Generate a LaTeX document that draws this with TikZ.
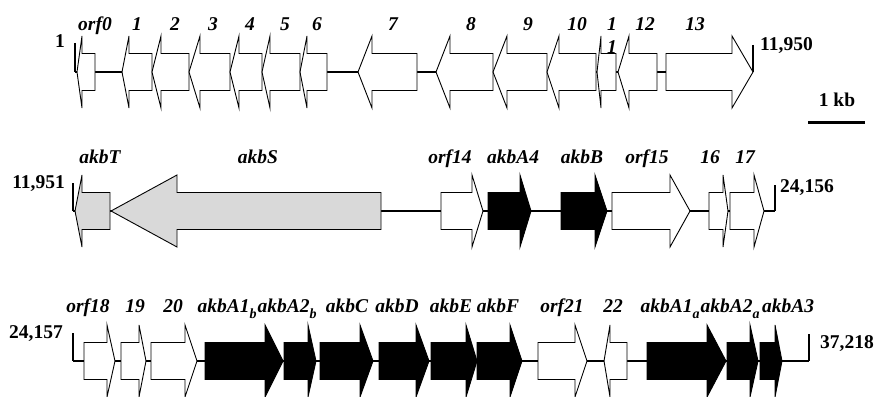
\documentclass[tikz,border=0pt]{standalone}
\usepackage{fontspec}
\setmainfont{Liberation Serif}
\begin{document}
\begin{tikzpicture}[x=1pt,y=-1pt,
  genelabel/.style={anchor=base,inner sep=0pt,font=\fontsize{19.5}{20}\selectfont\bfseries\itshape},
  coordlabel/.style={inner sep=0pt,font=\fontsize{19.5}{20}\selectfont\bfseries},
  openorf/.style={draw=black,line width=0.9pt,fill=white,line join=miter},
  akbgene/.style={draw=black,line width=0.9pt,fill=black,line join=miter},
  grayorf/.style={draw=black,line width=0.9pt,fill=gray!30,line join=miter},
  backbone/.style={line width=2.4pt},
  endtick/.style={line width=1.8pt}]
\useasboundingbox (0,0) rectangle (877,396);

% forward gene: style, left end, head base, tip, axis
\newcommand\fwdgene[5]{%
  \draw[#1] (#2,#5-18.5) -- (#3,#5-18.5) -- (#3,#5-36) -- (#4,#5)
    -- (#3,#5+36) -- (#3,#5+18.5) -- (#2,#5+18.5) -- cycle;}
% reverse gene: style, tip, head base, right end, axis
\newcommand\revgene[5]{%
  \draw[#1] (#4,#5-18.5) -- (#3,#5-18.5) -- (#3,#5-36) -- (#2,#5)
    -- (#3,#5+36) -- (#3,#5+18.5) -- (#4,#5+18.5) -- cycle;}

% ---------------- segment 1 : 1 .. 11,950 ----------------
\coordinate (s1a) at (75,72);
\coordinate (s1b) at (753,72);
\draw[endtick] (75,43) -- (s1a);
\draw[endtick] (753,45) -- (s1b);
\draw[backbone] (s1a) -- (s1b);
\revgene{openorf}{77}{82}{95}{72}
\revgene{openorf}{122}{129}{152}{72}
\revgene{openorf}{152}{161}{189}{72}
\revgene{openorf}{189}{200}{230}{72}
\revgene{openorf}{230}{239}{262}{72}
\revgene{openorf}{262}{270}{300}{72}
\revgene{openorf}{300}{307}{327}{72}
\revgene{openorf}{358}{372}{417}{72}
\revgene{openorf}{436}{450}{493}{72}
\revgene{openorf}{493}{507}{547}{72}
\revgene{openorf}{547}{559}{596}{72}
\revgene{openorf}{597}{601}{616}{72}
\revgene{openorf}{618}{629}{657}{72}
\fwdgene{openorf}{666}{732}{753}{72}

\node[coordlabel,anchor=base] (c1) at (60,48) {1};
\node[coordlabel,anchor=base west] (c11950) at (760,50) {11,950};
\node[genelabel] (g0) at (95,31) {orf0};
\node[genelabel] (g1) at (137,31) {1};
\node[genelabel] (g2) at (175,31) {2};
\node[genelabel] (g3) at (213,31) {3};
\node[genelabel] (g4) at (250,31) {4};
\node[genelabel] (g5) at (285,31) {5};
\node[genelabel] (g6) at (317,31) {6};
\node[genelabel] (g7) at (393,31) {7};
\node[genelabel] (g8) at (471,31) {8};
\node[genelabel] (g9) at (528,31) {9};
\node[genelabel] (g10) at (577,31) {10};
\node[genelabel] (g11a) at (612,31) {1};
\node[genelabel] (g11b) at (612,53) {1};
\node[genelabel] (g12) at (645,31) {12};
\node[genelabel] (g13) at (695,31) {13};

% scale bar
\node[coordlabel,anchor=base] (kb) at (837,106) {1 kb};
\coordinate (bar1) at (808,122);
\coordinate (bar2) at (865,122);
\draw[line width=3pt] (bar1) -- (bar2);

% ---------------- segment 2 : 11,951 .. 24,156 ----------------
\coordinate (s2a) at (73,211);
\coordinate (s2b) at (775,211);
\draw[endtick] (73,183) -- (s2a);
\draw[endtick] (775,185) -- (s2b);
\draw[line width=1.8pt] (s2a) -- (s2b);
\revgene{grayorf}{75}{82}{110}{211}
\revgene{grayorf}{111}{177}{381}{211}
\fwdgene{openorf}{441}{472}{483}{211}
\fwdgene{akbgene}{488}{520}{531}{211}
\fwdgene{akbgene}{561}{595}{607}{211}
\fwdgene{openorf}{612}{670}{690}{211}
\fwdgene{openorf}{709}{723}{728}{211}
\fwdgene{openorf}{730}{754}{764}{211}

\node[coordlabel,anchor=base east] (c11951) at (65,188) {11,951};
\node[coordlabel,anchor=base west] (c24156) at (780,192) {24,156};
\node[genelabel] (gT) at (100,163) {akbT};
\node[genelabel] (gS) at (258,163) {akbS};
\node[genelabel] (g14) at (450,163) {orf14};
\node[genelabel] (gA4) at (513,163) {akbA4};
\node[genelabel] (gB) at (582,163) {akbB};
\node[genelabel] (g15) at (647,163) {orf15};
\node[genelabel] (g16) at (710,163) {16};
\node[genelabel] (g17) at (745,163) {17};

% ---------------- segment 3 : 24,157 .. 37,218 ----------------
\coordinate (s3a) at (73,361);
\coordinate (s3b) at (809,361);
\draw[endtick] (73,333) -- (s3a);
\draw[endtick] (809,334) -- (s3b);
\draw[backbone] (s3a) -- (s3b);
\fwdgene{openorf}{84}{107}{115}{361}
\fwdgene{openorf}{121}{139}{146}{361}
\fwdgene{openorf}{151}{185}{197}{361}
\fwdgene{akbgene}{205}{265}{283}{361}
\fwdgene{akbgene}{284}{308}{316}{361}
\fwdgene{akbgene}{320}{360}{373}{361}
\fwdgene{akbgene}{379}{416}{429}{361}
\fwdgene{akbgene}{431}{466}{477}{361}
\fwdgene{akbgene}{477}{510}{522}{361}
\fwdgene{openorf}{538}{575}{587}{361}
\revgene{openorf}{604}{610}{627}{361}
\fwdgene{akbgene}{647}{707}{726}{361}
\fwdgene{akbgene}{727}{750}{758}{361}
\fwdgene{akbgene}{760}{775}{782}{361}

\newcommand\lowsub[1]{\raisebox{-0.32em}{\fontsize{14}{14}\selectfont #1}}
\node[coordlabel,anchor=base east] (c24157) at (63,338) {24,157};
\node[coordlabel,anchor=base west] (c37218) at (820,348) {37,218};
\node[genelabel] (g18) at (88,312) {orf18};
\node[genelabel] (g19) at (135,312) {19};
\node[genelabel] (g20) at (173,312) {20};
\node[genelabel] (gA1b) at (227,312) {akbA1\lowsub{b}};
\node[genelabel] (gA2b) at (287,312) {akbA2\lowsub{b}};
\node[genelabel] (gC) at (347,312) {akbC};
\node[genelabel] (gD) at (397,312) {akbD};
\node[genelabel] (gE) at (451,312) {akbE};
\node[genelabel] (gF) at (498,312) {akbF};
\node[genelabel] (g21) at (562,312) {orf21};
\node[genelabel] (g22) at (613,312) {22};
\node[genelabel] (gA1a) at (670,312) {akbA1\lowsub{a}};
\node[genelabel] (gA2a) at (730,312) {akbA2\lowsub{a}};
\node[genelabel] (gA3) at (788,312) {akbA3};
\end{tikzpicture}
\end{document}
